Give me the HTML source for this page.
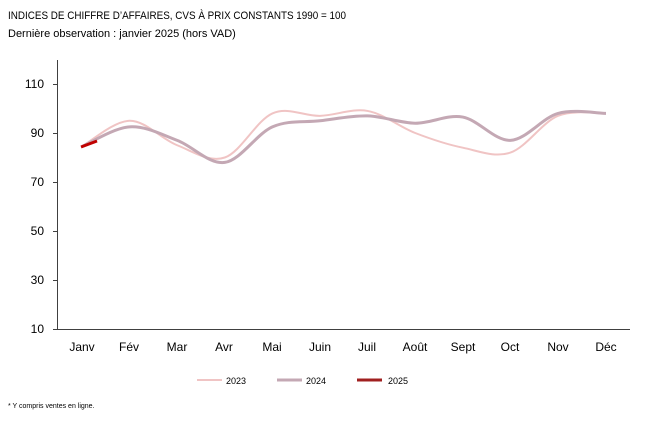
<!DOCTYPE html><html><head><meta charset="utf-8"><style>
body{margin:0;background:#fff;font-family:"Liberation Sans",sans-serif}
</style></head><body>
<svg id="s" width="650" height="420" xmlns="http://www.w3.org/2000/svg" font-family="Liberation Sans, sans-serif">
<rect width="650" height="420" fill="#fff"/>
<text x="8" y="19" font-size="11" fill="#000" textLength="338" lengthAdjust="spacingAndGlyphs">INDICES DE CHIFFRE D’AFFAIRES, CVS À PRIX CONSTANTS 1990 = 100</text>
<text x="8" y="37" font-size="11" fill="#000">Dernière observation : janvier 2025 (hors VAD)</text>
<g stroke="#404040" stroke-width="1">
<line x1="57.5" y1="60" x2="57.5" y2="329"/>
<line x1="57" y1="329.5" x2="630" y2="329.5"/>
</g>
<g id="ticks"></g>
<g font-size="12" fill="#000" text-anchor="end">
<text x="44" y="88">110</text><text x="44" y="137">90</text><text x="44" y="186">70</text>
<text x="44" y="235">50</text><text x="44" y="284">30</text><text x="44" y="333">10</text>
</g>
<g font-size="12" fill="#000" text-anchor="middle">
<text x="82" y="351">Janv</text><text x="129" y="351">Fév</text><text x="177" y="351">Mar</text>
<text x="224" y="351">Avr</text><text x="272" y="351">Mai</text><text x="320" y="351">Juin</text>
<text x="367" y="351">Juil</text><text x="415" y="351">Août</text><text x="463" y="351">Sept</text>
<text x="510" y="351">Oct</text><text x="558" y="351">Nov</text><text x="606" y="351">Déc</text>
</g>
<path id="p23" fill="none" stroke="#f0c4c4" stroke-width="2"/>
<path id="p24" fill="none" stroke="#c4a8b4" stroke-width="3"/>
<line x1="81" y1="147" x2="97" y2="141" stroke="#c00000" stroke-width="3"/>
<line x1="197" y1="380" x2="222" y2="380" stroke="#f0c4c4" stroke-width="2"/>
<text x="226" y="384" font-size="9">2023</text>
<line x1="277" y1="380" x2="302" y2="380" stroke="#c4a8b4" stroke-width="3"/>
<text x="306" y="384" font-size="9">2024</text>
<line x1="357" y1="380" x2="382" y2="380" stroke="#a02020" stroke-width="3"/>
<text x="388" y="384" font-size="9">2025</text>
<text x="8" y="408" font-size="7">* Y compris ventes en ligne.</text>
</svg>
<script>
var X=[82,129.6,177.2,224.8,272.4,320,367.6,415.2,462.8,510.4,558,606];
function Y(v){return 133-(v-90)*2.45;}
function path(vals){var p=vals.map(function(v,i){return [X[i],Y(v)]});
var d="M"+p[0][0]+","+p[0][1];
for(var i=0;i<p.length-1;i++){var a=p[i-1]||p[i],b=p[i],c=p[i+1],e=p[i+2]||c;
d+=" C"+(b[0]+(c[0]-a[0])/6)+","+(b[1]+(c[1]-a[1])/6)+" "+(c[0]-(e[0]-b[0])/6)+","+(c[1]-(e[1]-b[1])/6)+" "+c[0]+","+c[1];}
return d;}
document.getElementById("p23").setAttribute("d",path([84.5,95,85,80,98,97,99,90,84,82,97,98]));
document.getElementById("p24").setAttribute("d",path([84.5,92.5,87,78,92.5,95,97,94,96.5,87,98,98]));
var t="";[84.5,133.5,182.5,231.5,280.5,329.5].forEach(function(y){t+='<line x1="53" y1="'+y+'" x2="57" y2="'+y+'" stroke="#404040"/>';});
document.getElementById("ticks").innerHTML=t;
</script>
</body></html>
